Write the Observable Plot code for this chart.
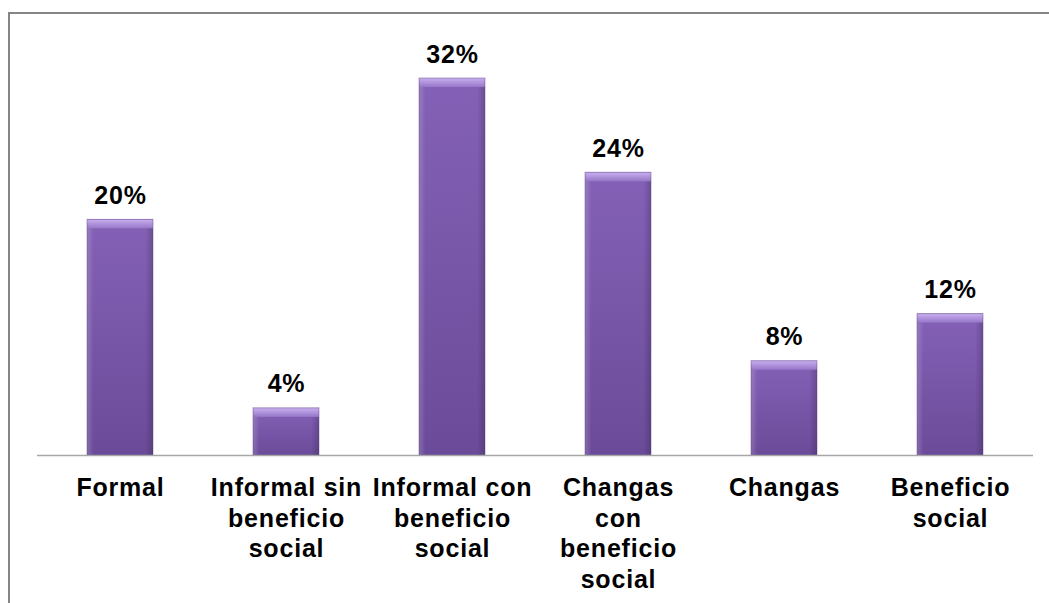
<!DOCTYPE html>
<html>
<head>
<meta charset="utf-8">
<script src="https://cdn.jsdelivr.net/npm/d3@7"></script>
<script src="https://cdn.jsdelivr.net/npm/@observablehq/plot@0.6"></script>
<style>
  html, body { margin: 0; padding: 0; background: #fff; width: 1049px; height: 603px; overflow: hidden; }
  #frame { position: absolute; left: 8px; top: 12px; width: 1100px; height: 700px;
           border-left: 2px solid #858585; border-top: 2px solid #858585; box-sizing: border-box; }
  #chart { position: absolute; left: 0; top: 0; }
  #chart svg text { letter-spacing: 0.8px; }
</style>
</head>
<body>
<div id="frame"></div>
<div id="chart"></div>
<script>
// Data
const categories = ["Formal", "Informal sin beneficio social", "Informal con beneficio social",
                    "Changas con beneficio social", "Changas", "Beneficio social"];
const values = [20, 4, 32, 24, 8, 12];
const tickLabels = ["Formal", "Informal sin\nbeneficio\nsocial", "Informal con\nbeneficio\nsocial",
                    "Changas\ncon\nbeneficio\nsocial", "Changas", "Beneficio\nsocial"];

const data = categories.map((c, i) => ({cat: c, value: values[i], label: tickLabels[i]}));

const font = "'Liberation Sans', Arial, sans-serif";

const plot = Plot.plot({
  width: 1049,
  height: 603,
  marginLeft: 37,
  marginRight: 16,
  marginTop: 78,
  marginBottom: 148,
  style: {fontFamily: font, background: "transparent", overflow: "visible"},
  x: {domain: categories, paddingInner: 0.6, paddingOuter: 0.3, axis: null},
  y: {domain: [0, 32], axis: null},
  marks: [
    // bar body
    Plot.barY(data, {x: "cat", y: "value", fill: "url(#barGrad)"}),
    // side shading
    Plot.barY(data, {x: "cat", y: "value", fill: "url(#sideGrad)"}),
    // top bevel highlight
    Plot.barY(data, {x: "cat", y1: "value", y2: "value", insetBottom: -9, fill: "url(#topGrad)"}),
    // bar outline
    Plot.barY(data, {x: "cat", y: "value", fill: "none", stroke: "#5b3f85", strokeOpacity: 0.45, strokeWidth: 1}),
    // baseline
    Plot.ruleY([0], {stroke: "#a6a6a6", strokeWidth: 1.5}),
    // value labels
    Plot.text(data, {x: "cat", y: "value", text: d => d.value + "%", lineAnchor: "bottom", dy: -16,
                     fontSize: 25, fontWeight: "bold", fill: "#000"}),
    // category labels
    Plot.text(data, {x: "cat", y: 0, text: "label", lineAnchor: "top", dy: 19, lineHeight: 1.22,
                     fontSize: 25, fontWeight: "bold", fill: "#000"})
  ]
});

// gradients for bevelled bars
const defs = d3.select(plot).insert("defs", ":first-child");
const g1 = defs.append("linearGradient").attr("id", "barGrad").attr("x1", 0).attr("y1", 0).attr("x2", 0).attr("y2", 1);
g1.append("stop").attr("offset", "0%").attr("stop-color", "#8461b6");
g1.append("stop").attr("offset", "100%").attr("stop-color", "#6b4b99");
const g2 = defs.append("linearGradient").attr("id", "sideGrad").attr("x1", 0).attr("y1", 0).attr("x2", 1).attr("y2", 0);
g2.append("stop").attr("offset", "0%").attr("stop-color", "#ffffff").attr("stop-opacity", 0.18);
g2.append("stop").attr("offset", "10%").attr("stop-color", "#ffffff").attr("stop-opacity", 0.0);
g2.append("stop").attr("offset", "88%").attr("stop-color", "#000000").attr("stop-opacity", 0.0);
g2.append("stop").attr("offset", "100%").attr("stop-color", "#000000").attr("stop-opacity", 0.18);
const g3 = defs.append("linearGradient").attr("id", "topGrad").attr("x1", 0).attr("y1", 0).attr("x2", 0).attr("y2", 1);
g3.append("stop").attr("offset", "0%").attr("stop-color", "#c9b0ef");
g3.append("stop").attr("offset", "100%").attr("stop-color", "#9676c8");

document.getElementById("chart").appendChild(plot);
</script>
</body>
</html>
